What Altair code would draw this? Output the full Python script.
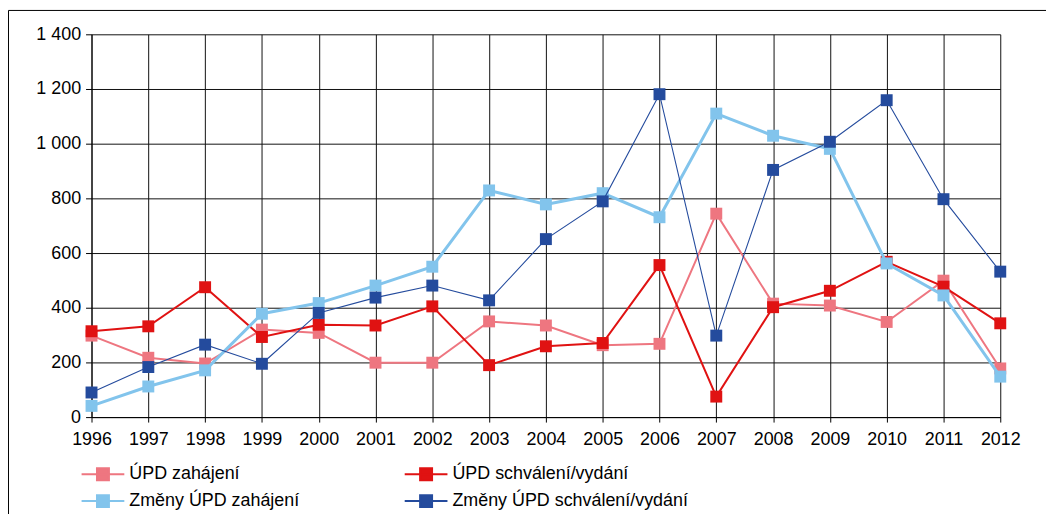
import altair as alt
import pandas as pd

years = list(range(1996, 2013))
series_names = ["ÚPD zahájení", "ÚPD schválení/vydání", "Změny ÚPD zahájení", "Změny ÚPD schválení/vydání"]
series_colors = ["#EE7680", "#E01212", "#82C4EC", "#244B9D"]
series_widths = [2, 2, 3, 1.1]

upd_zahajeni = [298, 217, 196, 320, 308, 199, 199, 350, 335, 263, 268, 744, 415, 408, 348, 499, 178]
upd_schvaleni = [314, 332, 475, 293, 338, 335, 405, 190, 259, 271, 556, 75, 402, 462, 568, 477, 343]
zmeny_zahajeni = [41, 112, 171, 378, 417, 481, 550, 829, 778, 819, 731, 1110, 1029, 981, 562, 445, 148]
zmeny_schvaleni = [90, 183, 265, 195, 381, 437, 481, 427, 651, 789, 1181, 298, 904, 1007, 1159, 797, 532]
y_ticks = [0, 200, 400, 600, 800, 1000, 1200, 1400]

values = [upd_zahajeni, upd_schvaleni, zmeny_zahajeni, zmeny_schvaleni]
rows = []
for name, vals in zip(series_names, values):
    for yr, v in zip(years, vals):
        rows.append({"year": yr, "value": v, "series": name})
df = pd.DataFrame(rows)

FONT = "Liberation Sans"
SYMBOL = "M-1,0H1M-0.28,-0.28H0.28V0.28H-0.28Z"

x_enc = alt.X(
    "year:Q",
    scale=alt.Scale(domain=[1996, 2012], nice=False, zero=False),
    axis=alt.Axis(values=years, format="d", title=None, tickSize=5, labelPadding=9,
                  labelFlush=False, labelOverlap=False),
)
y_enc = alt.Y(
    "value:Q",
    scale=alt.Scale(domain=[0, 1400], nice=False),
    axis=alt.Axis(values=y_ticks, title=None, tickSize=6, labelPadding=5, labelFlush=False,
                  labelExpr="replace(format(datum.value, ','), ',', ' ')"),
)
legend = alt.Legend(
    title=None, orient="none", legendX=-11, legendY=429, columns=2, direction="horizontal",
    symbolType=SYMBOL, symbolSize=1849, symbolStrokeWidth=2, symbolOpacity=1,
    labelFontSize=18, labelFont=FONT, labelColor="black", labelOffset=4, labelLimit=400,
    clipHeight=27, rowPadding=0, columnPadding=104, padding=0,
)
color_enc = alt.Color("series:N", scale=alt.Scale(domain=series_names, range=series_colors), legend=legend)

frame = alt.Chart(pd.DataFrame({"f": [0]})).mark_rect(
    fillOpacity=0, stroke="black", strokeWidth=1
).encode(x=alt.value(-83.5), x2=alt.value(990), y=alt.value(-24), y2=alt.value(500))

layers = [frame]
for name, w in zip(series_names, series_widths):
    base = alt.Chart(df).transform_filter(alt.datum.series == name)
    layers.append(base.mark_line(strokeWidth=w).encode(x=x_enc, y=y_enc, color=color_enc))
    layers.append(base.mark_point(shape="square", filled=True, size=144, opacity=1).encode(
        x=x_enc, y=y_enc, color=color_enc))

chart = alt.layer(*layers).properties(
    width=914, height=385,
    autosize=alt.AutoSizeParams(type="none"),
    padding={"left": 84, "top": 25, "right": 46, "bottom": 96},
).configure_view(stroke=None).configure_axis(
    domainColor="black", tickColor="black", gridColor="#111", gridWidth=1,
    labelFont=FONT, labelFontSize=18, labelColor="black", grid=True,
)

chart.save("out.html", embed_options={"renderer": "svg", "actions": False})
